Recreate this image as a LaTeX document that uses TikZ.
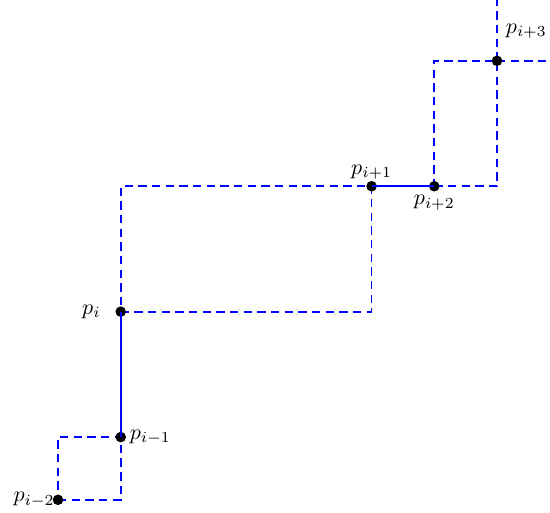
\documentclass[tikz,border=0pt]{standalone}
\begin{document}
\begin{tikzpicture}[x=1cm,y=1cm,
  dline/.style={draw=blue,line width=0.8pt,dash pattern=on 3.8pt off 2.4pt},
  sline/.style={draw=blue,line width=0.8pt},
  pt/.style={circle,fill=black,inner sep=0pt,minimum size=4.8pt}]
\useasboundingbox (-0.925,-0.21) rectangle (7.845,7.97);
% helper coordinates
\coordinate (a1) at (1,0);
\coordinate (a2) at (0,1);
\coordinate (b1) at (5,3);
\coordinate (b2) at (1,5);
\coordinate (c1) at (7,5);
\coordinate (c2) at (6,7);
\coordinate (c3) at (7,8);
\coordinate (c4) at (7.78,7);
% dashed boxes
\draw[dline] (0,0) -- (a1) -- (1,1) -- (a2) -- cycle;
\draw[dline] (1,3) -- (b1) -- (5,5) -- (b2) -- cycle;
\draw[dline] (6,5) -- (c1) -- (7,7) -- (c2) -- cycle;
\draw[dline] (7,7) -- (c3);
\draw[dline] (7,7) -- (c4);
% points
\node[pt] (pm2) at (0,0) {};
\node[pt] (pm1) at (1,1) {};
\node[pt] (p0) at (1,3) {};
\node[pt] (p1) at (5,5) {};
\node[pt] (p2) at (6,5) {};
\node[pt] (p3) at (7,7) {};
% solid segments
\draw[sline] (pm1.center) -- (p0.center);
\draw[sline] (p1.center) -- (p2.center);
% labels
\node[anchor=east] (lm2) at ([xshift=2pt]pm2.center) {$p_{i-2}$};
\node[right=-2pt] (lm1) at (pm1.east) {$p_{i-1}$};
\node[left=3pt] (l0) at (p0.west) {$p_i$};
\node[above=-3pt] (l1) at (p1.north) {$p_{i+1}$};
\node[below=-2pt] (l2) at (p2.south) {$p_{i+2}$};
\node[anchor=south west,inner sep=2pt] (l3) at ([yshift=6pt]p3.north east) {$p_{i+3}$};
\end{tikzpicture}
\end{document}
